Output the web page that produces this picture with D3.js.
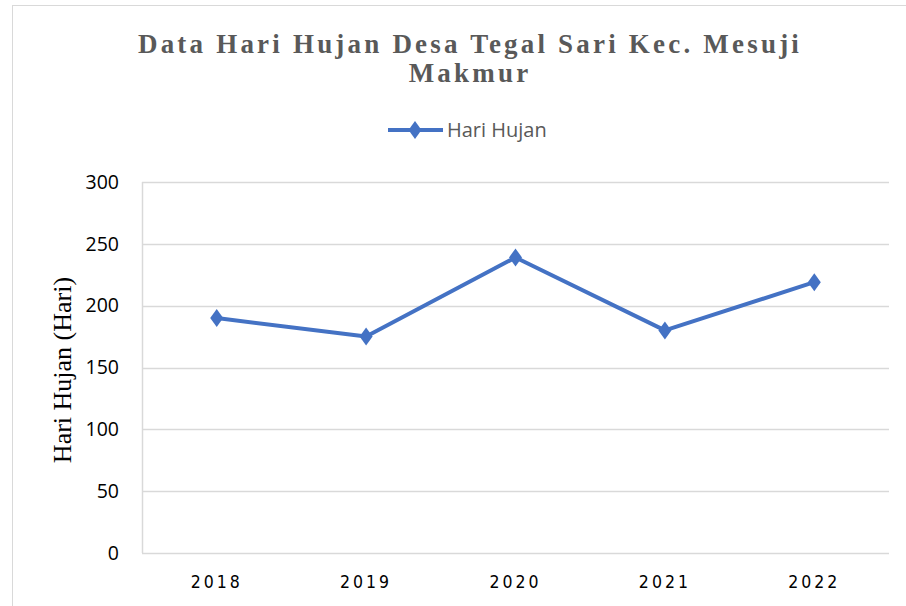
<!DOCTYPE html>
<html><head><meta charset="utf-8">
<script src="https://cdn.jsdelivr.net/npm/d3@7"></script>
<style>html,body{margin:0;padding:0;background:#fff;}svg{display:block;}</style>
</head><body>
<script>
const years = ["2018","2019","2020","2021","2022"];
const hariHujan = [190, 175, 239, 180, 219];
const yTicks = [0, 50, 100, 150, 200, 250, 300];
const titleLines = ["Data Hari Hujan Desa Tegal Sari Kec. Mesuji", "Makmur"];
const seriesName = "Hari Hujan";
const yAxisTitle = "Hari Hujan (Hari)";

(function(){
const W = 906, H = 606;
const svg = d3.select("body").append("svg").attr("width", W).attr("height", H);
svg.append("rect").attr("x",0).attr("y",0).attr("width",W).attr("height",H).attr("fill","#fff");
svg.append("rect").attr("x",12.5).attr("y",5.5).attr("width",1000).attr("height",1000)
  .attr("fill","none").attr("stroke","#d9d9d9").attr("stroke-width",1);

const pLeft = 142, pRight = 889, pTop = 182, pBottom = 553;
const x = d3.scaleBand().domain(years).range([pLeft, pRight]);
const y = d3.scaleLinear().domain([0, 300]).range([pBottom, pTop]);

const title = svg.append("text").attr("text-anchor","middle")
  .attr("font-family","'Liberation Serif','Times New Roman',serif").attr("font-weight","bold")
  .attr("font-size",27).attr("fill","#595959").attr("letter-spacing","3.2px");
titleLines.forEach((t,i)=>{
  title.append("tspan").attr("x",470).attr("y",53 + i*29).text(t);
});

svg.append("g").selectAll("line").data(yTicks).join("line")
  .attr("x1",pLeft).attr("x2",pRight)
  .attr("y1",d=>Math.round(y(d))+0.5).attr("y2",d=>Math.round(y(d))+0.5)
  .attr("stroke","#d9d9d9").attr("stroke-width",1.5);
svg.append("line").attr("x1",pLeft+0.5).attr("x2",pLeft+0.5).attr("y1",pTop).attr("y2",pBottom)
  .attr("stroke","#d9d9d9").attr("stroke-width",1.5);

const yAxis = d3.axisLeft(y).tickValues(yTicks).tickSize(0).tickPadding(23);
const gy = svg.append("g").attr("transform",`translate(${pLeft},0)`).call(yAxis);
gy.select(".domain").remove();
gy.selectAll("text").attr("font-family","'Open Sans','Liberation Sans',sans-serif")
  .attr("font-size",19.5).attr("fill","#000");

const xAxis = d3.axisBottom(x).tickSize(0).tickPadding(23);
const gx = svg.append("g").attr("transform",`translate(0,${pBottom})`).call(xAxis);
gx.select(".domain").remove();
gx.selectAll("text").attr("font-family","'DejaVu Sans Condensed','Liberation Sans Narrow',sans-serif")
  .attr("font-size",17.5).attr("fill","#000").attr("letter-spacing","3px");

svg.append("text").attr("transform",`translate(71,370) rotate(-90)`).attr("text-anchor","middle")
  .attr("font-family","'Liberation Serif','Times New Roman',serif").attr("font-size",26)
  .attr("fill","#000").text(yAxisTitle);

const color = "#4472C4";
const line = d3.line().x((d,i)=>x(years[i])+x.bandwidth()/2).y(d=>y(d));
svg.append("path").datum(hariHujan).attr("d",line).attr("fill","none")
  .attr("stroke",color).attr("stroke-width",4).attr("stroke-linejoin","round");
const diamond = "M0,-9 L6.5,0 L0,9 L-6.5,0 Z";
svg.append("g").selectAll("path").data(hariHujan).join("path")
  .attr("transform",(d,i)=>`translate(${x(years[i])+x.bandwidth()/2},${y(d)})`)
  .attr("d",diamond).attr("fill",color);

const lg = svg.append("g");
lg.append("line").attr("x1",388).attr("x2",443).attr("y1",130).attr("y2",130)
  .attr("stroke",color).attr("stroke-width",4);
lg.append("path").attr("transform","translate(415,130)").attr("d",diamond).attr("fill",color);
lg.append("text").attr("x",447).attr("y",137).attr("font-family","'Open Sans','Liberation Sans',sans-serif")
  .attr("font-size",20).attr("fill","#595959").text(seriesName);
})();
</script>
</body></html>
